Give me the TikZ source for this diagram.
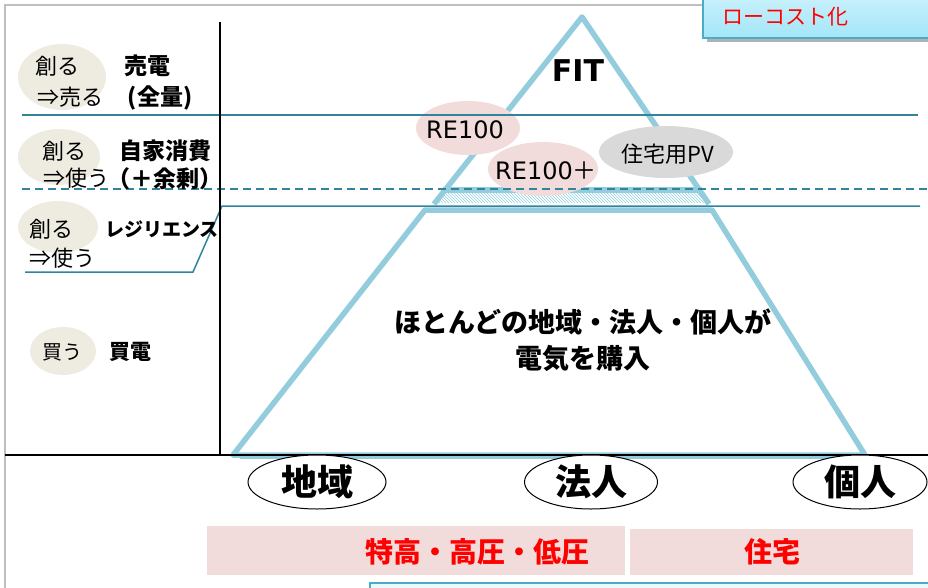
\documentclass[tikz,border=0pt]{standalone}
\usepackage{fontspec}
\setmainfont{Noto Sans CJK JP}
\newfontfamily\lat{DejaVu Sans}
\usetikzlibrary{shapes.geometric,patterns}
\definecolor{tri}{HTML}{93CDDD}
\definecolor{tealline}{HTML}{31849B}
\definecolor{beige}{HTML}{EEECE1}
\definecolor{pinkbg}{HTML}{F2DCDB}
\definecolor{graybg}{HTML}{D9D9D9}
\definecolor{framegray}{HTML}{BFBFBF}
\definecolor{boxborder}{HTML}{4BACC6}
\definecolor{boxtop}{HTML}{C9F1FC}
\definecolor{boxbot}{HTML}{A3E6F8}
\definecolor{redtxt}{HTML}{FF0000}
\newcommand\fsz[1]{\fontsize{#1}{#1}\selectfont}
\begin{document}
\begin{tikzpicture}[x=1pt,y=-1pt,
  txt/.style={inner sep=0, anchor=center},
  blob/.style={ellipse, inner sep=0, fill=beige},
  oval/.style={ellipse, inner sep=0, draw=black, line width=1pt, fill=white},
  triline/.style={draw=tri, line width=5.5pt, line join=round},
  tline/.style={draw=tealline, line width=1.5pt},
  pinkbox/.style={rectangle, inner sep=0, fill=pinkbg},
  small/.style={txt, font=\fsz{22}},
  label/.style={txt, font=\fsz{23}\bfseries},
  big/.style={txt, font=\fsz{36}\bfseries},
  redlabel/.style={txt, font=\fsz{28}\bfseries, text=redtxt}]
\useasboundingbox (0,0) rectangle (928,588);

% frame
\draw[framegray, line width=1.5pt] (5,600) -- (5,5) -- (710,5);

% top-right box
\fill[black!30] (707,-5) rectangle (935,42);
\shade[top color=boxtop, bottom color=boxbot, draw=boxborder, line width=1.5pt] (703,-5) rectangle (935,38);
\node[txt, font=\fsz{21}, text=redtxt] (lowcost) at (785,17) {ローコスト化};

% pyramid
\fill[pattern=north west lines, pattern color=tri] (443,191) -- (702,191) -- (709,203) -- (434,203) -- cycle;
\path[triline] (434,204) -- (582,17) -- (709,204);
\path[triline] (443,190) -- (702,190);
\path[triline] (425,210) -- (712,210) -- (865,455) -- (233,455) -- cycle;
\draw[tri, line width=3pt] (240,457) -- (860,457);

% bubbles in pyramid
\node[ellipse, inner sep=0, fill=pinkbg, minimum width=104, minimum height=54] (re100b) at (468,128) {};
\node[txt, font=\lat\fsz{24}] (re100) at (465,130) {RE100};
\node[ellipse, inner sep=0, fill=pinkbg, minimum width=110, minimum height=54] (re100pb) at (543,169) {};
\node[txt, font=\lat\fsz{24}] (re100p) at (546,171) {RE100{\normalfont\fsz{24}＋}};
\node[ellipse, inner sep=0, fill=graybg, minimum width=134, minimum height=52] (pvb) at (666,152) {};
\node[txt, font=\fsz{22}] (pv) at (668,154) {住宅用PV};
\node[txt, font=\lat\fsz{30}\bfseries] (fit) at (578,71) {FIT};

\node[txt, font=\fontsize{27}{36}\selectfont\bfseries, align=center] (main) at (583,340)
  {ほとんどの地域・法人・個人が\\電気を購入};

% horizontal separators
\draw[tline] (22,115) -- (918,115);
\draw[tline, dash pattern=on 8pt off 5pt] (22,189) -- (928,189);
\draw[tline] (25,272) -- (193,272) -- (222,206) -- (920,206);

% axis lines
\draw[black, line width=1.2pt] (220,22) -- (220,455);
\draw[black, line width=1.5pt] (5,455) -- (928,455);

% left column
\node[blob, minimum width=88, minimum height=66] (e1) at (62,77) {};
\node[small] (t1a) at (57,66) {創る};
\node[small] (t1b) at (70,97) {⇒売る};
\node[label] (l1a) at (147,66) {売電};
\node[label] (l1b) at (160,98) {(全量)};

\node[blob, minimum width=82, minimum height=56] (e2) at (59,157) {};
\node[small] (t2a) at (64,151) {創る};
\node[small] (t2b) at (76,178) {⇒使う};
\node[label] (l2a) at (165,151) {自家消費};
\node[label] (l2b) at (165,179) {（＋余剰）};

\node[blob, minimum width=80, minimum height=52] (e3) at (58,227) {};
\node[small] (t3a) at (51,229) {創る};
\node[small] (t3b) at (62,258) {⇒使う};
\node[txt, font=\fsz{19}\bfseries] (l3a) at (162,229) {レジリエンス};

\node[blob, minimum width=66, minimum height=48] (e4) at (63,351) {};
\node[txt, font=\fsz{20}] (t4a) at (62,352) {買う};
\node[txt, font=\fsz{21}\bfseries] (l4a) at (130,352) {買電};

% bottom ovals
\node[oval, minimum width=138, minimum height=54] (chiiki) at (317,482) {};
\node[big] (chiikit) at (317,482) {地域};
\node[oval, minimum width=133, minimum height=54] (hojin) at (591,482) {};
\node[big] (hojint) at (591,482) {法人};
\node[oval, minimum width=134, minimum height=54] (kojin) at (860,482) {};
\node[big] (kojint) at (860,482) {個人};

% pink boxes
\node[pinkbox, minimum width=418, minimum height=49] (hv) at (416,550.5) {};
\node[redlabel] (hvt) at (477,552) {特高・高圧・低圧};
\node[pinkbox, minimum width=283, minimum height=46] (res) at (771.5,552) {};
\node[redlabel] (rest) at (772,552) {住宅};

% bottom box (cut)
\draw[boxborder, fill=boxtop!40, line width=2pt] (370,583) rectangle (940,600);
\end{tikzpicture}
\end{document}
